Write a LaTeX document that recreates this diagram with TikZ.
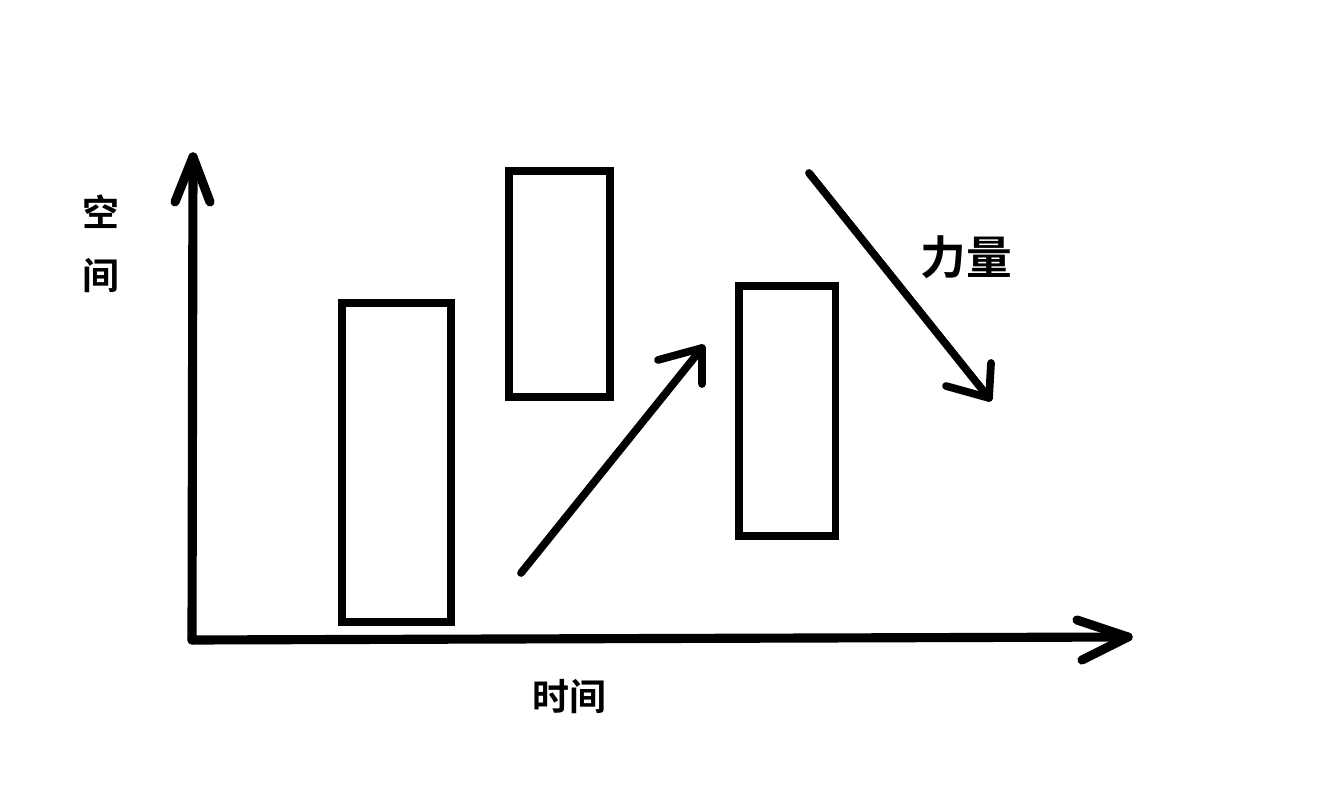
\documentclass[tikz,border=0pt]{standalone}
\usepackage{fontspec}
\newfontfamily\cjk{Noto Sans CJK SC Bold}
\usepackage{tikz}

\begin{document}
\begin{tikzpicture}[x=0.01cm,y=-0.01cm,
		axis/.style={line width=2.6pt,line cap=round,line join=round},
		bar/.style={line width=2pt},
		force/.style={line width=2.2pt,line cap=round,line join=round},
		label/.style={font=\cjk\fontsize{10.5pt}{12pt}\selectfont}]
		\useasboundingbox[fill=white] (0,0) rectangle (1328,798);
		% axes
		\coordinate (origin) at (192,640);
		\coordinate (ytip) at (193,157);
		\coordinate (xtip) at (1128,637);
		\draw[axis] (origin) -- (ytip);
		\draw[axis] (175,202) -- (ytip) -- (210,202);
		\draw[axis] (origin) -- (xtip);
		\draw[axis] (1077,620) -- (xtip) -- (1082,660);
		\node[label] (space1) at (101,212) {空};
		\node[label] (space2) at (101,276) {间};
		\node[label] (time) at (569,697) {时间};
		% bars
		\draw[bar] (342,303) rectangle (451,622);
		\draw[bar] (509,171) rectangle (610,397);
		\draw[bar] (739,286) rectangle (835,536);
		% force arrows
		\coordinate (upstart) at (521,573);
		\coordinate (uptip) at (702,348);
		\draw[force] (upstart) -- (uptip);
		\draw[force] (658,360) -- (uptip) -- (702,384);
		\coordinate (downstart) at (809,173);
		\coordinate (downtip) at (989,398);
		\draw[force] (downstart) -- (downtip);
		\draw[force] (946,386) -- (downtip) -- (991,363);
		\node[label,font=\cjk\fontsize{13pt}{15pt}\selectfont] (force) at (966,257) {力量};
	\end{tikzpicture}
\end{document}
